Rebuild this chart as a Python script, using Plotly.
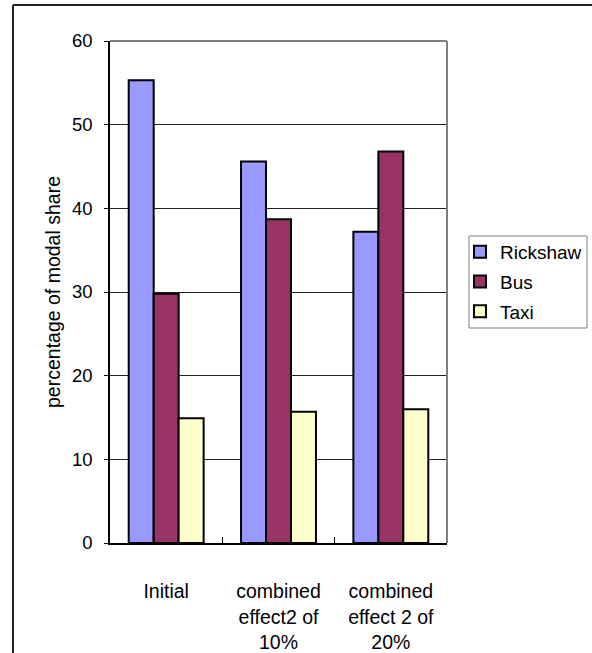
import plotly.graph_objects as go

# Modal share by scenario
categories = ["Initial", "combined<br>effect2 of<br>10%", "combined<br>effect 2 of<br>20%"]
rickshaw = [55.3, 45.6, 37.2]
bus = [29.8, 38.7, 46.8]
taxi = [14.9, 15.7, 16.0]

series_names = ["Rickshaw", "Bus", "Taxi"]
series_values = [rickshaw, bus, taxi]
series_colors = ["#9999FF", "#993366", "#FFFFCC"]

y_ticks = [0, 10, 20, 30, 40, 50, 60]

FONT = "Liberation Sans, Arial, sans-serif"

fig = go.Figure()
for name, vals, color in zip(series_names, series_values, series_colors):
    fig.add_trace(go.Bar(
        x=categories, y=vals, name=name, legendgroup=name,
        marker=dict(color=color, line=dict(color="black", width=2)),
    ))

# plot area geometry in pixels
W, H = 592, 653
L, R, T, B = 110, 447, 41, 543
pw, ph = R - L, B - T

def px_x(x):
    return (x - L) / pw

def px_y(y):
    return (B - y) / ph

fig.update_layout(
    width=W, height=H,
    margin=dict(l=L, r=W - R, t=T, b=H - B, autoexpand=False),
    paper_bgcolor="white", plot_bgcolor="white",
    font=dict(family=FONT, size=18.5, color="black"),
    barmode="group", bargap=0.333, bargroupgap=0,
    showlegend=True,
    legend=dict(
        x=px_x(460), y=px_y(233), xanchor="left", yanchor="top",
        borderwidth=0, bgcolor="rgba(0,0,0,0)",
        font=dict(family=FONT, size=19, color="black"),
        tracegroupgap=2, traceorder="grouped",
    ),
    xaxis=dict(
        showgrid=False, showline=True, linecolor="black", linewidth=1.5,
        ticks="inside", ticklen=6, tickcolor="black", tickson="boundaries",
        ticklabelstandoff=30, tickfont=dict(family=FONT, size=19.5),
        fixedrange=True,
    ),
    yaxis=dict(
        range=[0, 60], tickvals=y_ticks,
        showgrid=True, gridcolor="#222222", gridwidth=1,
        showline=True, linecolor="black", linewidth=1.5,
        ticks="outside", ticklen=4, tickcolor="black",
        ticklabelstandoff=8, tickfont=dict(family=FONT, size=18.5),
        zeroline=False,
        title=dict(text="percentage of modal share", standoff=6,
                   font=dict(family=FONT, size=19.5)),
        fixedrange=True,
    ),
    shapes=[
        # plot area frame (top and right edges in gray)
        dict(type="line", xref="paper", yref="paper", x0=0, x1=1, y0=1, y1=1,
             line=dict(color="#808080", width=2), layer="above"),
        dict(type="line", xref="paper", yref="paper", x0=1, x1=1, y0=0, y1=1,
             line=dict(color="#808080", width=2), layer="above"),
        # legend box
        dict(type="rect", xref="paper", yref="paper",
             x0=px_x(469), x1=px_x(587), y0=px_y(328), y1=px_y(236),
             line=dict(color="#808080", width=1), fillcolor="white", layer="below"),
        # chart frame
        dict(type="line", xref="paper", yref="paper",
             x0=px_x(13), x1=px_x(600), y0=px_y(5), y1=px_y(5),
             line=dict(color="#222222", width=2)),
        dict(type="line", xref="paper", yref="paper",
             x0=px_x(13), x1=px_x(13), y0=px_y(5), y1=px_y(660),
             line=dict(color="#222222", width=2)),
    ],
)

fig.write_html("out.html")
